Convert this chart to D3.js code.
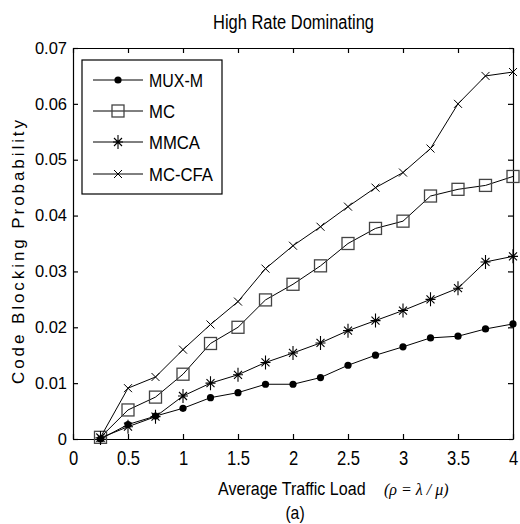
<!DOCTYPE html>
<meta charset="utf-8">
<style>
body {
  margin: 0;
  background: #fff;
  font-family: "Liberation Sans", Arial, sans-serif;
}
.axis path, .axis line {
  stroke: #000;
  stroke-width: 1.2;
}
.axis text {
  fill: #000;
}
.series {
  fill: none;
  stroke: #000;
  stroke-width: 1;
}
</style>
<body>
<script src="https://cdn.jsdelivr.net/npm/d3@7"></script>
<script>

var width = 520,
    height = 524;

var loads = [0.25, 0.5, 0.75, 1, 1.25, 1.5, 1.75, 2, 2.25, 2.5, 2.75, 3, 3.25, 3.5, 3.75, 4];

var muxM  = [0.0000, 0.0026, 0.0041, 0.0055, 0.0074, 0.0083, 0.0098, 0.0098, 0.0110, 0.0132, 0.0150, 0.0165, 0.0181, 0.0184, 0.0197, 0.0206];
var mc    = [0.0003, 0.0052, 0.0075, 0.0116, 0.0171, 0.0200, 0.0249, 0.0277, 0.0310, 0.0350, 0.0377, 0.0390, 0.0435, 0.0447, 0.0454, 0.0470];
var mmca  = [0.0002, 0.0022, 0.0040, 0.0077, 0.0100, 0.0115, 0.0137, 0.0154, 0.0172, 0.0194, 0.0212, 0.0230, 0.0250, 0.0270, 0.0317, 0.0327];
var mcCfa = [0.0003, 0.0091, 0.0111, 0.0160, 0.0205, 0.0246, 0.0305, 0.0346, 0.0380, 0.0416, 0.0450, 0.0477, 0.0520, 0.0600, 0.0650, 0.0657];

var seriesNames = ["MUX-M", "MC", "MMCA", "MC-CFA"];
var seriesMarks = ["dot", "square", "star", "cross"];

var xTicks = [0, 0.5, 1, 1.5, 2, 2.5, 3, 3.5, 4];
var yTicks = [0, 0.01, 0.02, 0.03, 0.04, 0.05, 0.06, 0.07];

var margin = {left: 73, right: 7, top: 48, bottom: 85};

var x = d3.scaleLinear().domain([0, 4]).range([margin.left, width - margin.right]);
var y = d3.scaleLinear().domain([0, 0.07]).range([height - margin.bottom, margin.top]);

var svg = d3.select("body").append("svg")
    .attr("width", width)
    .attr("height", height);

// frame with inward ticks on all four sides
var xBottom = svg.append("g").attr("class", "axis")
    .attr("transform", "translate(0," + y(0) + ")")
    .call(d3.axisBottom(x).tickValues(xTicks).tickSizeInner(-5).tickSizeOuter(0).tickPadding(11.5)
      .tickFormat(function(d) { return d; }));
xBottom.selectAll("text").attr("font-size", "20px").attr("transform", "scale(0.83,1)");

svg.append("g").attr("class", "axis")
    .attr("transform", "translate(0," + y(0.07) + ")")
    .call(d3.axisTop(x).tickValues(xTicks).tickSizeInner(-5).tickSizeOuter(0).tickFormat(""));

var yLeft = svg.append("g").attr("class", "axis")
    .attr("transform", "translate(" + x(0) + ",0)")
    .call(d3.axisLeft(y).tickValues(yTicks).tickSizeInner(-5).tickSizeOuter(0).tickPadding(6)
      .tickFormat(function(d) { return d === 0 ? "0" : d3.format(".2f")(d); }));
yLeft.selectAll("text").attr("font-size", "16.5px");

svg.append("g").attr("class", "axis")
    .attr("transform", "translate(" + x(4) + ",0)")
    .call(d3.axisRight(y).tickValues(yTicks).tickSizeInner(-5).tickSizeOuter(0).tickFormat(""));

var line = d3.line()
    .x(function(d) { return x(d[0]); })
    .y(function(d) { return y(d[1]); });

function drawMarker(g, type, cx, cy) {
  if (type === "dot") {
    g.append("circle").attr("cx", cx).attr("cy", cy).attr("r", 3.6).attr("fill", "#000");
  } else if (type === "square") {
    g.append("rect").attr("x", cx - 6).attr("y", cy - 6).attr("width", 12).attr("height", 12)
      .attr("fill", "none").attr("stroke", "#444").attr("stroke-width", 1.3);
  } else if (type === "star") {
    var p = d3.path();
    p.moveTo(cx, cy - 7); p.lineTo(cx, cy + 7);
    p.moveTo(cx - 5, cy); p.lineTo(cx + 5, cy);
    p.moveTo(cx - 4, cy - 4); p.lineTo(cx + 4, cy + 4);
    p.moveTo(cx - 4, cy + 4); p.lineTo(cx + 4, cy - 4);
    g.append("path").attr("d", p.toString()).attr("stroke", "#000").attr("stroke-width", 1.1).attr("fill", "none");
  } else {
    var q = d3.path();
    q.moveTo(cx - 4, cy - 4); q.lineTo(cx + 4, cy + 4);
    q.moveTo(cx - 4, cy + 4); q.lineTo(cx + 4, cy - 4);
    g.append("path").attr("d", q.toString()).attr("stroke", "#000").attr("stroke-width", 1).attr("fill", "none");
  }
}

var allSeries = [muxM, mc, mmca, mcCfa];

allSeries.forEach(function(vals, i) {
  var pts = loads.map(function(l, j) { return [l, vals[j]]; });
  var g = svg.append("g");
  g.append("path").attr("class", "series").attr("d", line(pts));
  pts.forEach(function(p) { drawMarker(g, seriesMarks[i], x(p[0]), y(p[1])); });
});

// legend
var legend = svg.append("g");
legend.append("rect")
    .attr("x", 82).attr("y", 60).attr("width", 140).attr("height", 134)
    .attr("fill", "#fff").attr("stroke", "#000").attr("stroke-width", 1.2);
var legendRows = [80, 111, 142, 174];
var legendWidths = [54, 26, 51, 64];
seriesNames.forEach(function(name, i) {
  var ly = legendRows[i];
  legend.append("line").attr("x1", 93).attr("x2", 143).attr("y1", ly).attr("y2", ly)
    .attr("stroke", "#000").attr("stroke-width", 1);
  drawMarker(legend, seriesMarks[i], 118, ly);
  legend.append("text").attr("x", 149).attr("y", ly + 6.5)
    .attr("font-size", "18px")
    .attr("textLength", legendWidths[i]).attr("lengthAdjust", "spacingAndGlyphs")
    .text(name);
});

// titles
svg.append("text").attr("x", 213).attr("y", 29)
    .attr("font-size", "20px")
    .attr("textLength", 161).attr("lengthAdjust", "spacingAndGlyphs")
    .text("High Rate Dominating");

svg.append("text")
    .attr("transform", "translate(24,384) rotate(-90)")
    .attr("font-size", "17px")
    .attr("textLength", 264).attr("lengthAdjust", "spacing")
    .text("Code Blocking Probability");

svg.append("text").attr("transform", "translate(218,495) scale(0.846,1)")
    .attr("font-size", "19px")
    .text("Average Traffic Load");

svg.append("text").attr("x", 384).attr("y", 495)
    .attr("font-family", "'Liberation Serif', 'DejaVu Serif', serif")
    .attr("font-style", "italic")
    .attr("font-size", "16px")
    .text("(\u03C1 = \u03BB / \u03BC)");

svg.append("text").attr("transform", "translate(295,519) scale(0.83,1)")
    .attr("text-anchor", "middle")
    .attr("font-size", "19px")
    .text("(a)");

</script>
